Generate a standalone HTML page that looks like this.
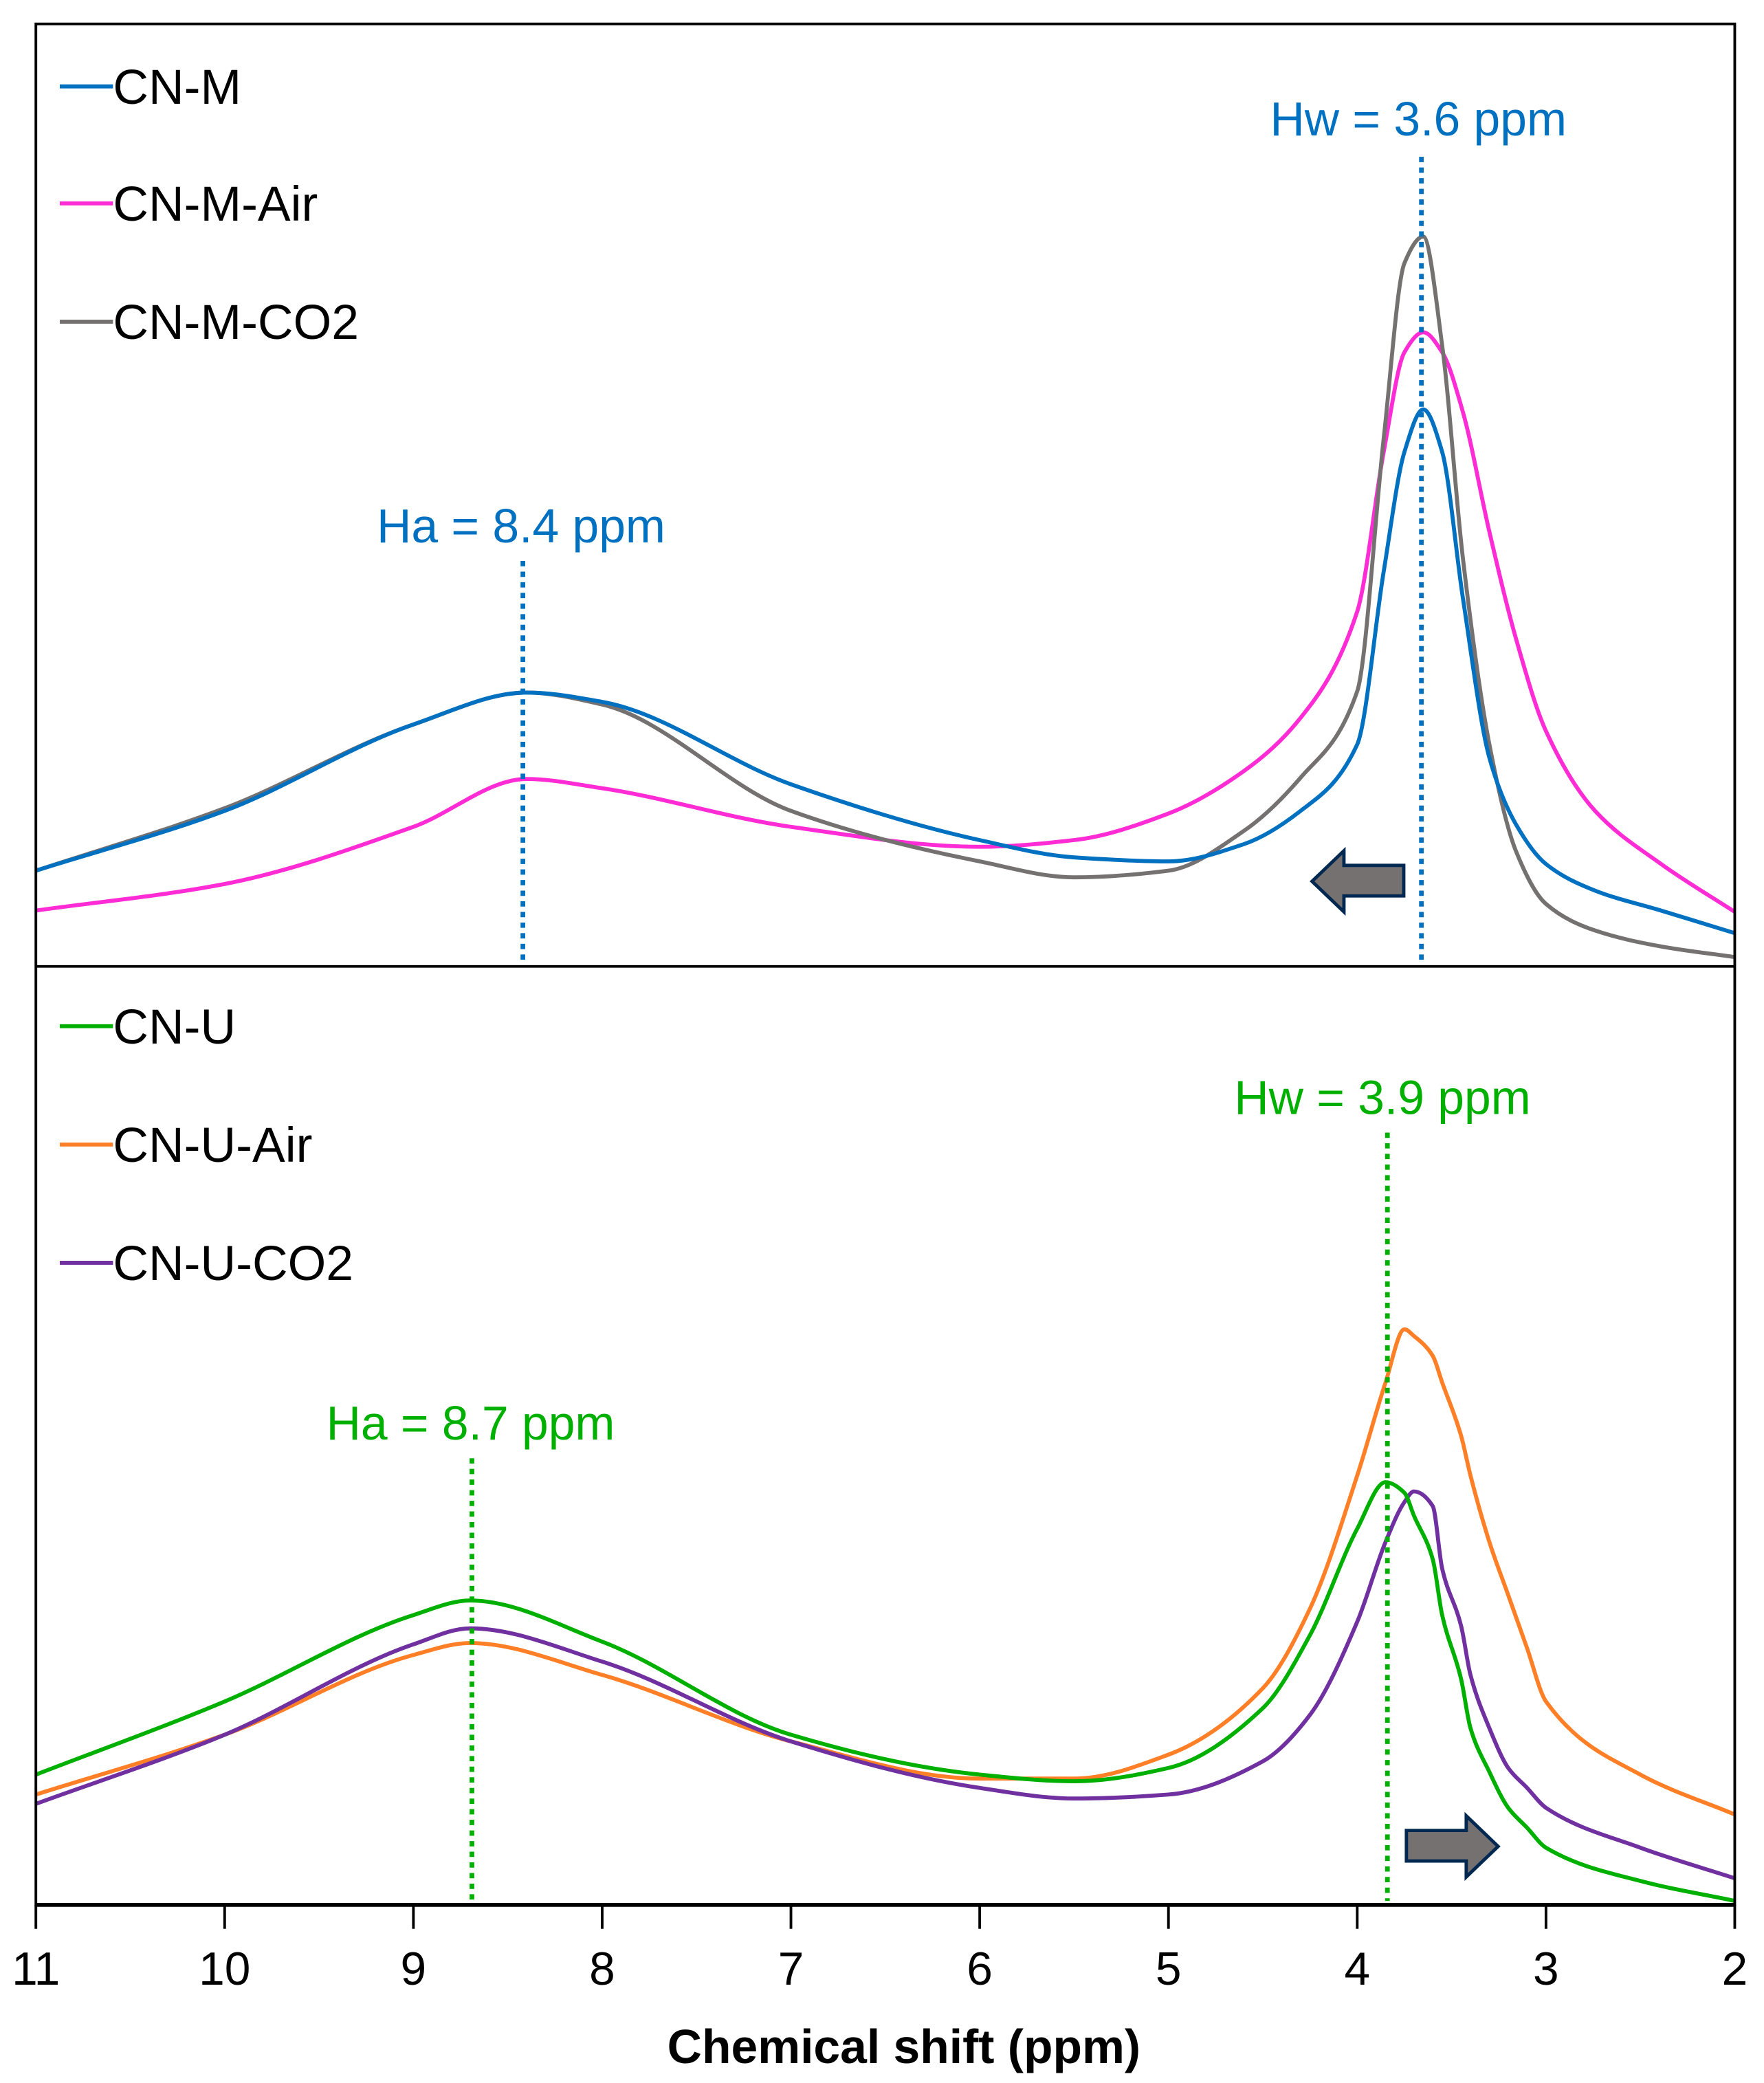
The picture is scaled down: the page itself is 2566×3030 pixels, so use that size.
<!DOCTYPE html>
<html><head><meta charset="utf-8"><style>
html,body{margin:0;padding:0;background:#fff;}
svg{display:block;}
text{font-family:"Liberation Sans",Arial,sans-serif;}
</style></head><body>
<svg id="chart" width="2566" height="3030" viewBox="0 0 1327 1567" preserveAspectRatio="none" xmlns="http://www.w3.org/2000/svg">
<g id="curves"></g>
<g id="frame"></g>
</svg>
<script>
// Data: chemical shift samples (ppm) and intensities (height above panel baseline)
const ppmTop = [11,10,9,8.4,8,7,6,5.5,5,4.6,4.3,4.0,3.86,3.75,3.65,3.55,3.44,3.3,3.16,3.0,2.74,2.39,2];
const cnM    = [72,117,182,206,199,137,95,82,79,92,117,167,297,387,419,387,277,157,107,77,57,42,25];
const cnMAir = [42,62,105,141,134,105,90,95,115,147,187,267,387,462,477,462,417,327,247,177,117,77,41];
const cnMCO2 = [72,119,182,206,197,117,79,67,72,102,142,207,397,529,549,467,307,167,87,47,27,15,7];
const ppmBot = [11,10,9,8.7,8,7,6,5.5,5,4.5,4.25,4.0,3.85,3.75,3.7,3.6,3.55,3.45,3.4,3.3,3.2,3.1,3.0,2.5,2];
const cnU    = [98,153,218,229,198,128,98,93,103,148,203,283,318,310,293,260,218,170,133,100,73,58,43,18,3];
const cnUAir = [83,128,188,197,173,123,95,95,113,163,223,323,393,433,428,413,393,353,323,273,233,193,153,98,68];
const cnUCO2 = [76,128,196,208,183,123,88,80,83,108,143,213,273,303,311,300,253,210,173,133,103,88,73,43,20];
const xTicks = [11,10,9,8,7,6,5,4,3,2];

const NS='http://www.w3.org/2000/svg';
const L=27,R=1305,T=18,M=727,B=1433;
const xs=p=>L+(11-p)*(R-L)/9;
function mk(tag,attrs,parent,txt){const e=document.createElementNS(NS,tag);for(const k in attrs)e.setAttribute(k,attrs[k]);if(txt!==undefined)e.textContent=txt;parent.appendChild(e);return e;}
// monotone cubic interpolation (Fritsch-Carlson) in screen x
function pathFrom(px,vals,base){
  const X=px.map(xs), Y=vals.map(v=>base-v), n=X.length;
  const d=[],m=new Array(n);
  for(let i=0;i<n-1;i++)d.push((Y[i+1]-Y[i])/(X[i+1]-X[i]));
  m[0]=d[0];m[n-1]=d[n-2];
  for(let i=1;i<n-1;i++){
    if(d[i-1]*d[i]<=0)m[i]=0;
    else{const h0=X[i]-X[i-1],h1=X[i+1]-X[i];const w1=2*h1+h0,w2=h1+2*h0;m[i]=(w1+w2)/(w1/d[i-1]+w2/d[i]);}
  }
  let s='M'+X[0].toFixed(1)+','+Y[0].toFixed(1);
  for(let i=0;i<n-1;i++){
    const h=X[i+1]-X[i];
    s+=' C'+(X[i]+h/3).toFixed(1)+','+(Y[i]+m[i]*h/3).toFixed(1)+' '+(X[i+1]-h/3).toFixed(1)+','+(Y[i+1]-m[i+1]*h/3).toFixed(1)+' '+X[i+1].toFixed(1)+','+Y[i+1].toFixed(1);
  }
  return s;
}
const cg=document.getElementById('curves');
const fr=document.getElementById('frame');
function series(name,px,vals,base,color){
  const e=mk('path',{d:pathFrom(px,vals,base),fill:'none',stroke:color,'stroke-width':3,'stroke-linejoin':'round'},cg);
  
  
}
series('cn-m-air-line',ppmTop,cnMAir,M,'#FF2BD4');
series('cn-m-co2-line',ppmTop,cnMCO2,M,'#767171');
series('cn-m-line',ppmTop,cnM,M,'#0070C0');
series('cn-u-air-line',ppmBot,cnUAir,B,'#FF7F27');
series('cn-u-co2-line',ppmBot,cnUCO2,B,'#7030A0');
series('cn-u-line',ppmBot,cnU,B,'#00B000');

function vline(name,p,y1,y2,color){
  const e=mk('line',{x1:xs(p),x2:xs(p),y1:y1,y2:y2,stroke:color,'stroke-width':3.5,'stroke-dasharray':'4 4'},cg);
  
  
}
vline('hw-top-marker',3.66,118,722,'#0070C0');
vline('ha-top-marker',8.42,422,722,'#0070C0');
vline('hw-bottom-marker',3.84,852,1430,'#00B000');
vline('ha-bottom-marker',8.69,1097,1430,'#00B000');

function label(name,x,y,s,color,anchor,size,weight){
  const e=mk('text',{x:x,y:y,fill:color,'font-size':size||36,'text-anchor':anchor||'start','font-weight':weight||'normal'},fr,s);
  
  
}
label('hw-top-label',1067,102,'Hw = 3.6 ppm','#0070C0','middle');
label('ha-top-label',392,408,'Ha = 8.4 ppm','#0070C0','middle');
label('hw-bottom-label',1040,838,'Hw = 3.9 ppm','#00B000','middle');
label('ha-bottom-label',354,1083,'Ha = 8.7 ppm','#00B000','middle');

// legends
const leg=[['CN-M','#0070C0',65],['CN-M-Air','#FF2BD4',153],['CN-M-CO2','#767171',242],['CN-U','#00B000',772],['CN-U-Air','#FF7F27',861],['CN-U-CO2','#7030A0',950]];
leg.forEach(([n,c,y])=>{
  const g=mk('g',{},fr);
  
  
  mk('line',{x1:45,x2:85,y1:y,y2:y,stroke:c,'stroke-width':3},g);
  mk('text',{x:85,y:y+13,'font-size':37,fill:'#000'},g,n);
});

// arrows
const a1=mk('path',{d:'M987,663 L1011,640 L1011,651 L1056,651 L1056,674 L1011,674 L1011,686 Z',fill:'#767171',stroke:'#002850','stroke-width':2.5},fr);


const a2=mk('path',{d:'M1127,1389 L1103,1366 L1103,1377 L1058,1377 L1058,1400 L1103,1400 L1103,1412 Z',fill:'#767171',stroke:'#002850','stroke-width':2.5},fr);



// frame
const box=mk('rect',{x:L,y:T,width:R-L,height:B-T,fill:'none',stroke:'#000','stroke-width':2},fr);


const div=mk('line',{x1:L,x2:R,y1:M,y2:M,stroke:'#000','stroke-width':2},fr);


mk('line',{x1:L,x2:R,y1:B,y2:B,stroke:'#000','stroke-width':3},fr);
xTicks.forEach(t=>{
  const tk=mk('line',{x1:xs(t),x2:xs(t),y1:B,y2:B+18,stroke:'#000','stroke-width':2},fr);
  
  
  const tl=mk('text',{x:xs(t),y:1493,'font-size':35,'text-anchor':'middle',fill:'#000'},fr,String(t));
  
  
});
label('x-axis-title',680,1552,'Chemical shift (ppm)','#000','middle',36,'bold');
</script>
</body></html>
